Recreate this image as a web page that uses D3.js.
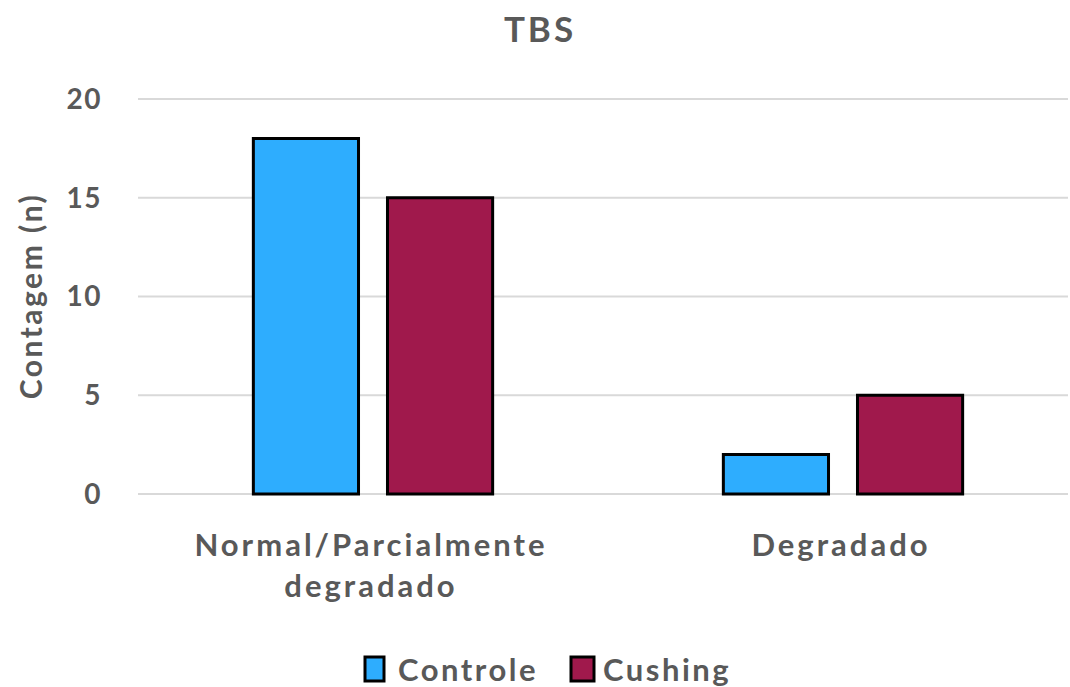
<!DOCTYPE html>
<html>
<head>
<meta charset="utf-8">
<script src="https://cdn.jsdelivr.net/npm/d3@7"></script>
<style>
  body { margin: 0; background: #fff; }
  text { font-family: Lato, "Open Sans", sans-serif; font-weight: bold; fill: #595959; }
</style>
</head>
<body>
<svg id="chart" width="1070" height="687"></svg>
<script>
const categories = [["Normal/Parcialmente", "degradado"], ["Degradado"]];
const seriesNames = ["Controle", "Cushing"];
const controle = [18, 2];
const cushing = [15, 5];
const yTicks = [0, 5, 10, 15, 20];
const colors = ["#2eadfe", "#a0194c"];

const svg = d3.select("#chart");
const W = 1070, H = 687;
const plotLeft = 138, plotRight = 1078;

const x = d3.scaleBand().domain(d3.range(categories.length))
  .range([plotLeft, plotRight]);
const xs = d3.scaleBand().domain(seriesNames).range([0, x.bandwidth()])
  .paddingInner(0.216).paddingOuter(0.86);
const y = d3.scaleLinear().domain([0, 20]).range([494, 99]);

// grid
svg.append("g").selectAll("line").data(yTicks).enter().append("line")
  .attr("x1", plotLeft).attr("x2", 1068)
  .attr("y1", d => y(d)).attr("y2", d => y(d))
  .attr("stroke", "#d9d9d9").attr("stroke-width", 2);

// y tick labels
svg.append("g").selectAll("text").data(yTicks).enter().append("text")
  .attr("x", 102).attr("y", d => y(d)).attr("dy", "0.35em")
  .attr("text-anchor", "end").attr("font-size", 28)
  .attr("letter-spacing", 1.5).text(d => d);

// bars
const rows = categories.map((c, i) => [controle[i], cushing[i]]);
const groups = svg.append("g").selectAll("g").data(rows).enter().append("g")
  .attr("transform", (d, i) => `translate(${x(i)},0)`);
groups.selectAll("rect").data(d => d.map((v, j) => ({ v, s: seriesNames[j], j })))
  .enter().append("rect")
  .attr("x", d => xs(d.s)).attr("width", xs.bandwidth())
  .attr("y", d => y(d.v)).attr("height", d => y(0) - y(d.v))
  .attr("fill", d => colors[d.j]).attr("stroke", "#000").attr("stroke-width", 3);

// x labels
const xl = svg.append("g").selectAll("text").data(categories).enter().append("text")
  .attr("text-anchor", "middle").attr("font-size", 31).attr("letter-spacing", 3)
  .attr("transform", (d, i) => `translate(${x(i) + x.bandwidth() / 2 - 2},556)`);
xl.selectAll("tspan").data(d => d).enter().append("tspan")
  .attr("x", 0).attr("dy", (d, i) => i === 0 ? 0 : 41).text(d => d);

// title
svg.append("text").attr("x", 540).attr("y", 42).attr("text-anchor", "middle")
  .attr("font-size", 35).attr("letter-spacing", 3).text("TBS");

// y axis label
svg.append("text").attr("transform", "translate(42,296) rotate(-90)")
  .attr("text-anchor", "middle").attr("font-size", 30).attr("letter-spacing", 2.5)
  .text("Contagem (n)");

// legend
const legX = [365, 571];
const leg = svg.append("g").selectAll("g").data(seriesNames).enter().append("g")
  .attr("transform", (d, i) => `translate(${legX[i]},657)`);
leg.append("rect").attr("width", (d, i) => i === 0 ? 19 : 23).attr("height", 24)
  .attr("fill", (d, i) => colors[i]).attr("stroke", "#000").attr("stroke-width", 3);
leg.append("text").attr("x", (d, i) => i === 0 ? 33 : 32).attr("y", 13).attr("dy", "0.35em")
  .attr("font-size", 31).attr("letter-spacing", 2.5).text(d => d);
</script>
</body>
</html>
